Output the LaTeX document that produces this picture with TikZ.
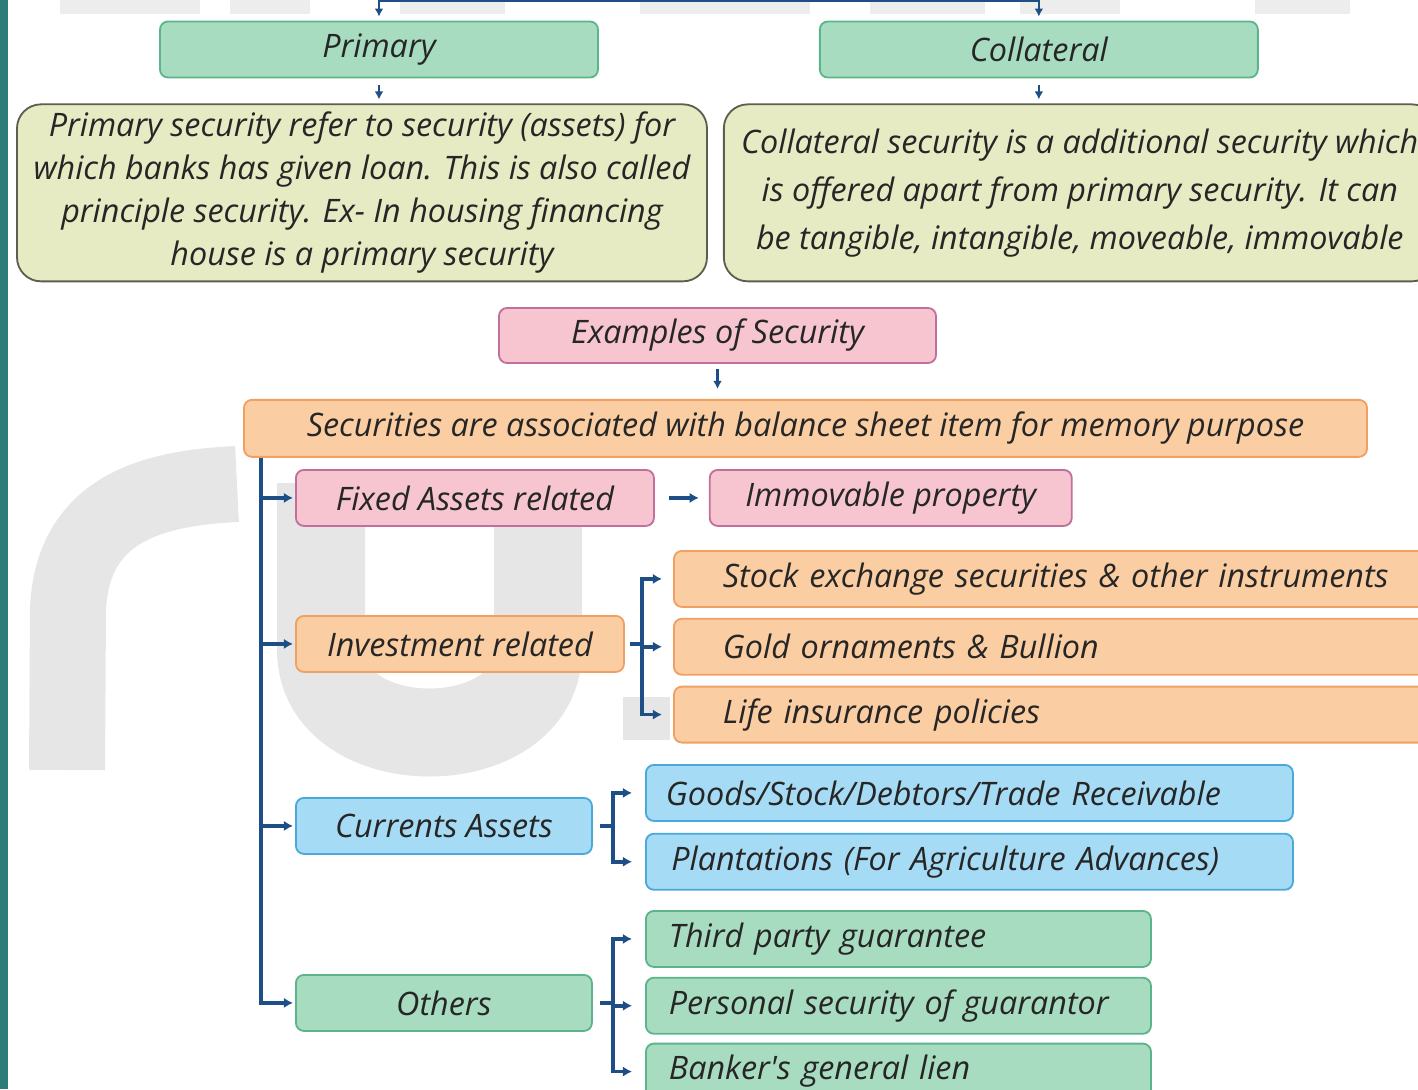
\documentclass[tikz,border=0pt]{standalone}
\usepackage{fontspec}
\setmainfont{Open Sans}
\usetikzlibrary{arrows.meta,positioning}

\definecolor{grfill}{HTML}{A8DCC0}
\definecolor{grline}{HTML}{5CB58A}
\definecolor{notefill}{HTML}{E6EBC3}
\definecolor{noteline}{HTML}{5E5E4E}
\definecolor{pkfill}{HTML}{F6C5D0}
\definecolor{pkline}{HTML}{C0709A}
\definecolor{orfill}{HTML}{FBCDA2}
\definecolor{orline}{HTML}{EFA062}
\definecolor{blfill}{HTML}{A5DBF4}
\definecolor{blline}{HTML}{4BA9DA}
\definecolor{ink}{HTML}{262626}
\definecolor{wireblue}{HTML}{1D4F86}
\definecolor{sidebar}{HTML}{2E7C7A}
\definecolor{wmgray}{HTML}{E6E6E6}

\begin{document}
\begin{tikzpicture}[
    x=0.25mm, y=-0.25mm,
    box/.style={draw, line width=1.3pt, rounded corners=2mm, text=ink,
      font=\itshape\fontsize{23}{27}\selectfont, minimum height=14mm, inner sep=0pt},
    green/.style={box, fill=grfill, draw=grline},
    pink/.style={box, fill=pkfill, draw=pkline},
    orange/.style={box, fill=orfill, draw=orline},
    blue/.style={box, fill=blfill, draw=blline},
    note/.style={box, fill=notefill, draw=noteline, rounded corners=6mm, align=center},
    stockitem/.style={orange, inner xsep=12.25mm, text width=168mm, align=left},
    gooditem/.style={blue, inner xsep=5mm, text width=151.75mm, align=left},
    guaritem/.style={green, inner xsep=5.75mm, text width=114.75mm, align=left},
    trunk/.style={draw=wireblue, line width=2.6pt},
    branch/.style={trunk, -{Latex[length=2.3mm,width=2.6mm]}, shorten >=0.5mm},
    link/.style={draw=wireblue, line width=1.8pt, -{Latex[length=2mm,width=2.2mm]}},
  ]
  \useasboundingbox (0,0) rectangle (1418,1089);
  \clip (0,0) rectangle (1418,1089);

  % faint lettering behind the chart
  \begin{scope}[wmgray]
    \foreach \a/\b in {60/200, 230/310, 400/505, 640/810, 870/985, 1020/1120, 1255/1350}
      \fill[opacity=0.7] (\a,0) rectangle (\b,14);
    \draw[line width=19mm] (67,770) -- (68,610) .. controls (72,510) and (150,488) .. (237,484);
    \draw[line width=22mm] (321,483) -- (321,650) .. controls (321,760) and (538,760) .. (538,650) -- (538,478);
    \fill (623,697) rectangle (670,740);
  \end{scope}
  \fill[sidebar] (0,0) rectangle (8,1089);

  % two kinds of security
  \node[green, minimum width=109.5mm] (primary) at (379,49.5) {Primary};
  \node[green, minimum width=109.5mm, right=55mm of primary] (collateral) {Collateral};
  \node[note, minimum width=172.5mm, minimum height=44.25mm, below=6.25mm of primary, xshift=-4.25mm,
    font=\itshape\fontsize{23}{30.6}\selectfont] (primnote)
    {Primary security refer to security (assets) for\\ which banks has given loan. This is also called\\
     principle security. Ex- In housing financing\\ house is a primary security};
  \node[note, minimum width=178mm, minimum height=44.25mm, below=6.25mm of collateral, xshift=10.25mm,
    font=\itshape\fontsize{23}{34}\selectfont] (collnote)
    {Collateral security is a additional security which\\ is offered apart from primary security. It can\\
     be tangible, intangible, moveable, immovable};

  \coordinate (split) at (708,1);
  \draw[link, line width=1.3pt, shorten >=1mm] (split) -| (primary);
  \draw[link, line width=1.3pt, shorten >=1mm] (split) -| (collateral);
  \draw[link, shorten <=1.75mm, shorten >=1mm] (primary.south) -- (primary.south |- primnote.north);
  \draw[link, shorten <=1.75mm, shorten >=1mm] (collateral.south) -- (collateral.south |- collnote.north);

  % examples
  \node[pink, minimum width=109.25mm, minimum height=13.75mm] (examples) at (717.5,335.5) {Examples of Security};
  \node[orange, minimum width=280.75mm, minimum height=14.25mm, below=8.75mm of examples, xshift=22mm] (balance)
    {Securities are associated with balance sheet item for memory purpose};
  \draw[link, shorten <=1.25mm, shorten >=2.5mm] (examples.south) -- (examples.south |- balance.north);

  \node[pink, minimum width=89.5mm, anchor=north west] (fixed) at (295,469) {Fixed Assets related};
  \node[pink, minimum width=90.5mm, right=13.5mm of fixed] (immovable) {Immovable property};

  \node[orange, minimum width=82mm, anchor=north west] (investment) at (295,615) {Investment related};
  \node[stockitem, anchor=north west] (stock) at (673,550) {Stock exchange securities \& other instruments};
  \node[stockitem, below=2.5mm of stock] (gold) {Gold ornaments \& Bullion};
  \node[stockitem, below=2.5mm of gold] (life) {Life insurance policies};

  \node[blue, minimum width=74mm, anchor=north west] (currents) at (295,797) {Currents Assets};
  \node[gooditem, anchor=north west] (goods) at (645,764) {Goods/Stock/Debtors/Trade Receivable};
  \node[gooditem, below=2.75mm of goods] (plantations) {\,Plantations (For Agriculture Advances)};

  \node[green, minimum width=74mm, anchor=north west] (others) at (295,974) {Others};
  \node[guaritem, anchor=north west] (third) at (645,910) {Third party guarantee};
  \node[guaritem, below=2.25mm of third] (personal) {Personal security of guarantor};
  \node[guaritem, below=2mm of personal] (banker) {Banker\textquotesingle s general lien};

  % tree lines
  \coordinate (root) at ([xshift=4.5mm]balance.south west);
  \foreach \n in {fixed,investment,currents,others}
    \draw[branch] (root) |- (\n.west);
  \draw[branch, shorten <=3.5mm, shorten >=2.5mm] (fixed) -- (immovable);

  \coordinate[right=4.25mm of investment.east] (invfork);
  \draw[trunk] ([xshift=1.25mm]investment.east) -- (invfork);
  \foreach \n in {stock,gold,life}
    \draw[branch, shorten >=2.75mm] (invfork) |- (\n.west);

  \coordinate[right=5mm of currents.east] (curfork);
  \draw[trunk] ([xshift=1.75mm]currents.east) -- (curfork);
  \foreach \n in {goods,plantations}
    \draw[branch, shorten >=3.25mm] (curfork) |- (\n.west);

  \coordinate[right=5mm of others.east] (othfork);
  \draw[trunk] ([xshift=1.75mm]others.east) -- (othfork);
  \foreach \n in {third,personal,banker}
    \draw[branch, shorten >=3.25mm] (othfork) |- (\n.west);
\end{tikzpicture}
\end{document}
